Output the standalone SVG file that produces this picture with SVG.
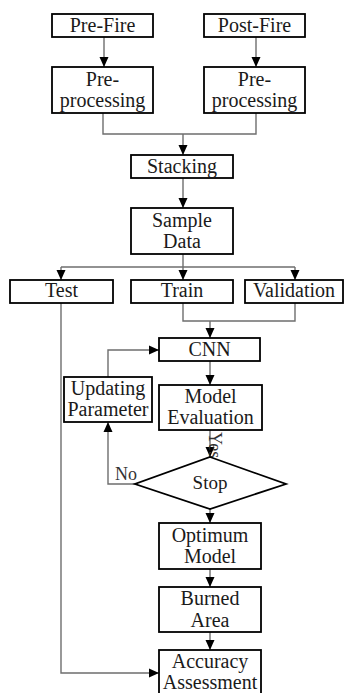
<svg xmlns="http://www.w3.org/2000/svg" width="345" height="693" viewBox="0 0 345 693">
<defs>
<marker id="ah" markerUnits="userSpaceOnUse" markerWidth="10" markerHeight="10" viewBox="0 0 10 10" refX="10" refY="5" orient="auto">
<path d="M0,0.5 L10,5 L0,9.5 Z" fill="#000"/>
</marker>
<style>
.box{fill:#fff;stroke:#000;stroke-width:1.8}
.t{font-family:'Liberation Serif','Times New Roman',serif;font-size:20px;fill:#1a1a1a;text-anchor:middle}
.c{fill:none;stroke:#6e6e6e;stroke-width:1.4}
.a{fill:none;stroke:#6e6e6e;stroke-width:1.4;marker-end:url(#ah)}
.lbl{font-family:'Liberation Serif','Times New Roman',serif;font-size:18px;fill:#333}
</style>
</defs>
<rect width="345" height="693" fill="#fff"/>
<g id="connectors">
<line class="a" x1="104" y1="37" x2="104" y2="67"/>
<line class="a" x1="256" y1="37" x2="256" y2="67"/>
<polyline class="c" points="103,113 103,134 256,134 256,113"/>
<line class="a" x1="183" y1="134" x2="183" y2="155"/>
<line class="a" x1="183" y1="178" x2="183" y2="208"/>
<line class="c" x1="183" y1="254" x2="183" y2="267"/>
<line class="c" x1="61" y1="267" x2="295" y2="267"/>
<line class="a" x1="61" y1="267" x2="61" y2="280"/>
<line class="a" x1="183" y1="267" x2="183" y2="280"/>
<line class="a" x1="295" y1="267" x2="295" y2="280"/>
<polyline class="c" points="183,303 183,321 295,321 295,303"/>
<line class="a" x1="210" y1="321" x2="210" y2="338"/>
<polyline class="a" points="108,377 108,350 159,350"/>
<line class="a" x1="210" y1="361" x2="210" y2="385"/>
<line class="a" x1="210" y1="430" x2="210" y2="457"/>
<polyline class="a" points="135,484 108,484 108,422"/>
<line class="a" x1="210" y1="509" x2="210" y2="523"/>
<line class="a" x1="210" y1="569" x2="210" y2="587"/>
<line class="a" x1="210" y1="632" x2="210" y2="650"/>
<polyline class="a" points="61,303 61,673 159,673"/>
<text class="lbl" x="0" y="0" transform="translate(209,432) rotate(90)">Yes</text>
<text class="lbl" x="115" y="480">No</text>
</g>
<g id="pre-fire"><rect class="box" x="52" y="14" width="101" height="23"/><text class="t" x="102.5" y="32">Pre-Fire</text></g>
<g id="post-fire"><rect class="box" x="204" y="14" width="101" height="23"/><text class="t" x="254.5" y="32">Post-Fire</text></g>
<g id="preproc-1"><rect class="box" x="52" y="67" width="101" height="46"/><text class="t" x="102.5" y="86">Pre-</text><text class="t" x="102.5" y="107">processing</text></g>
<g id="preproc-2"><rect class="box" x="204" y="67" width="101" height="46"/><text class="t" x="254.5" y="86">Pre-</text><text class="t" x="254.5" y="107">processing</text></g>
<g id="stacking"><rect class="box" x="131" y="155" width="102" height="23"/><text class="t" x="182" y="173">Stacking</text></g>
<g id="sample-data"><rect class="box" x="131" y="208" width="102" height="46"/><text class="t" x="182" y="227">Sample</text><text class="t" x="182" y="248">Data</text></g>
<g id="test"><rect class="box" x="10" y="280" width="103" height="23"/><text class="t" x="61.5" y="297">Test</text></g>
<g id="train"><rect class="box" x="131" y="280" width="102" height="23"/><text class="t" x="182" y="297">Train</text></g>
<g id="validation"><rect class="box" x="245" y="280" width="98" height="23"/><text class="t" x="294" y="297">Validation</text></g>
<g id="cnn"><rect class="box" x="159" y="338" width="101" height="23"/><text class="t" x="209.5" y="356">CNN</text></g>
<g id="updating-parameter"><rect class="box" x="64" y="377" width="88" height="45"/><text class="t" x="108" y="395">Updating</text><text class="t" x="108" y="416">Parameter</text></g>
<g id="model-evaluation"><rect class="box" x="159" y="385" width="103" height="45"/><text class="t" x="210.5" y="403">Model</text><text class="t" x="210.5" y="424">Evaluation</text></g>
<g id="stop"><polygon class="box" points="210,457 286,484 210,509 135,484"/><text class="t" x="210" y="489" style="font-size:19px">Stop</text></g>
<g id="optimum-model"><rect class="box" x="159" y="523" width="102" height="46"/><text class="t" x="210" y="542">Optimum</text><text class="t" x="210" y="563">Model</text></g>
<g id="burned-area"><rect class="box" x="159" y="587" width="102" height="45"/><text class="t" x="210" y="605">Burned</text><text class="t" x="210" y="627">Area</text></g>
<g id="accuracy-assessment"><rect class="box" x="159" y="650" width="102" height="50"/><text class="t" x="210" y="668">Accuracy</text><text class="t" x="210" y="689">Assessment</text></g>
</svg>
